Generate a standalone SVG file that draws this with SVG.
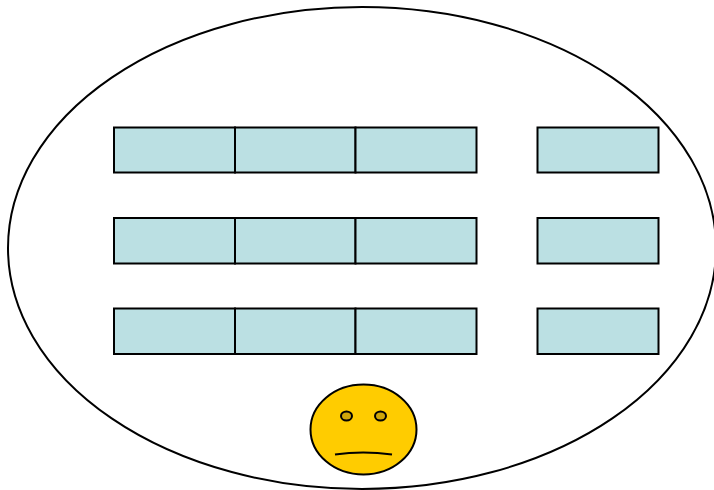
<svg xmlns="http://www.w3.org/2000/svg" width="714" height="490" viewBox="0 0 714 490">
<style>
.o{fill:none;stroke:#000;stroke-width:2}
.c{fill:#bbe0e3;stroke:#000;stroke-width:2}
.f{fill:#ffcc00;stroke:#000;stroke-width:2}
.e{fill:#cfa60a;stroke:#000;stroke-width:2}
.m{fill:none;stroke:#000;stroke-width:2}
</style>
<rect width="714" height="490" fill="#fff"/>
<g id="boundary"><ellipse class="o" cx="362" cy="248" rx="354" ry="241"/></g>
<g id="row1">
<rect class="c" x="114" y="127.500" width="121" height="45"/>
<rect class="c" x="235" y="127.500" width="120.500" height="45"/>
<rect class="c" x="355.500" y="127.500" width="121" height="45"/>
<rect class="c" x="537.500" y="127.500" width="121" height="45"/>
</g>
<g id="row2">
<rect class="c" x="114" y="218" width="121" height="45.500"/>
<rect class="c" x="235" y="218" width="120.500" height="45.500"/>
<rect class="c" x="355.500" y="218" width="121" height="45.500"/>
<rect class="c" x="537.500" y="218" width="121" height="45.500"/>
</g>
<g id="row3">
<rect class="c" x="114" y="308.500" width="121" height="45.500"/>
<rect class="c" x="235" y="308.500" width="120.500" height="45.500"/>
<rect class="c" x="355.500" y="308.500" width="121" height="45.500"/>
<rect class="c" x="537.500" y="308.500" width="121" height="45.500"/>
</g>
<g id="face">
<ellipse class="f" cx="363.500" cy="429.500" rx="53" ry="45"/>
<ellipse class="e" cx="346.500" cy="416" rx="5.500" ry="4.500"/>
<ellipse class="e" cx="380.500" cy="416" rx="5.500" ry="4.500"/>
<path class="m" d="M335 454.500Q363 450.500 392 454.500"/>
</g>
</svg>
